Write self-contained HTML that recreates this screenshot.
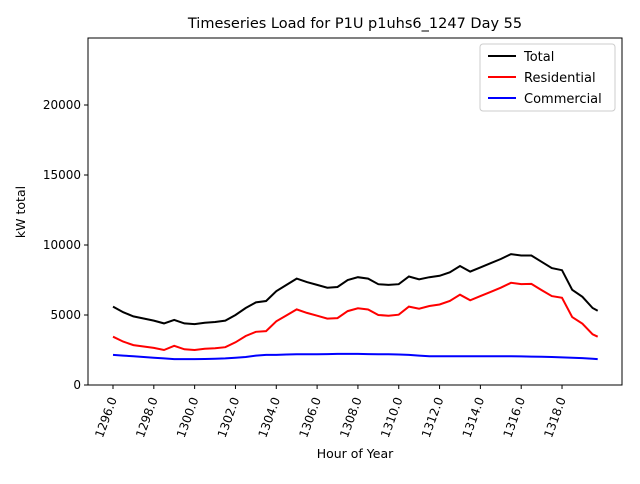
<!DOCTYPE html>
<html><head><meta charset="utf-8"><style>
body{margin:0;background:#fff;font-family:"DejaVu Sans","Liberation Sans",sans-serif;}
svg text{font-family:"DejaVu Sans","Liberation Sans",sans-serif;}
</style></head><body>
<svg id="c" width="640" height="480">
<rect width="640" height="480" fill="#fff"/>
</svg>
<script>
const hours=[1296,1296.5,1297,1297.5,1298,1298.5,1299,1299.5,1300,1300.5,1301,1301.5,1302,1302.5,1303,1303.5,1304,1304.5,1305,1305.5,1306,1306.5,1307,1307.5,1308,1308.5,1309,1309.5,1310,1310.5,1311,1311.5,1312,1312.5,1313,1313.5,1314,1314.5,1315,1315.5,1316,1316.5,1317,1317.5,1318,1318.5,1319,1319.5,1319.75];
const total=[5600,5200,4900,4750,4600,4400,4650,4400,4350,4450,4500,4600,5000,5500,5900,6000,6700,7150,7600,7350,7150,6950,7000,7500,7700,7600,7200,7150,7200,7750,7550,7700,7800,8050,8500,8100,8400,8700,9000,9350,9250,9250,8800,8350,8200,6800,6300,5500,5300];
const commercial=[2150,2100,2050,2000,1950,1900,1850,1850,1850,1860,1880,1900,1950,2000,2100,2150,2150,2180,2200,2200,2200,2210,2220,2220,2220,2210,2200,2200,2180,2150,2100,2060,2050,2050,2050,2050,2050,2050,2050,2050,2040,2030,2020,2000,1970,1950,1920,1880,1850];
const residential=[3450,3100,2850,2750,2650,2500,2800,2550,2500,2590,2620,2700,3050,3500,3800,3850,4550,4970,5400,5150,4950,4740,4780,5280,5480,5390,5000,4950,5020,5600,5450,5640,5750,6000,6450,6050,6350,6650,6950,7300,7210,7220,6780,6350,6230,4850,4380,3620,3450];
const yTicks=[0,5000,10000,15000,20000];
const xTicks=[1296,1298,1300,1302,1304,1306,1308,1310,1312,1314,1316,1318];
const L=88,R=622,T=38,B=385;
const X=h=>113+(h-1296)*20.41;
const Y=v=>B-v*0.014;
const svg=document.getElementById('c');
const NS='http://www.w3.org/2000/svg';
function mk(t,a,p){const e=document.createElementNS(NS,t);for(const k in a)e.setAttribute(k,a[k]);(p||svg).appendChild(e);return e;}
function series(vals,color,name){
  const pts=vals.map((v,i)=>X(hours[i]).toFixed(1)+','+Y(v).toFixed(1)).join(' ');
  const p=mk('polyline',{points:pts,fill:'none',stroke:color,'stroke-width':2});
  
  
}
series(total,'#000','total-line');
series(residential,'#ff0000','residential-line');
series(commercial,'#0000ff','commercial-line');
const frame=mk('rect',{x:L,y:T,width:R-L,height:B-T,fill:'none',stroke:'#000','stroke-width':1});


yTicks.forEach(v=>{
  mk('line',{x1:L-4,x2:L,y1:Y(v),y2:Y(v),stroke:'#000'});
  const t=mk('text',{x:L-7,y:Y(v)+4,'text-anchor':'end','font-size':12});
  t.textContent=v;
  
  
});
xTicks.forEach(h=>{
  mk('line',{x1:X(h),x2:X(h),y1:B,y2:B+4,stroke:'#000'});
  const t=mk('text',{x:X(h)+4,y:B+14,'text-anchor':'end','font-size':12,transform:`rotate(-70 ${X(h)+4} ${B+14})`});
  t.textContent=h.toFixed(1);
  
  
});
const ti=mk('text',{x:355,y:28,'text-anchor':'middle','font-size':14.5});
ti.textContent='Timeseries Load for P1U p1uhs6_1247  Day 55';


const xl=mk('text',{x:355,y:458,'text-anchor':'middle','font-size':12.5});
xl.textContent='Hour of Year';


const yl=mk('text',{x:25,y:212,'text-anchor':'middle','font-size':12.5,transform:'rotate(-90 25 212)'});
yl.textContent='kW total';


const lg=mk('g',{});


mk('rect',{x:480,y:44,width:135,height:67,rx:3,fill:'#fff',stroke:'#ccc'},lg);
[['Total','#000',56],['Residential','#ff0000',77],['Commercial','#0000ff',98]].forEach(([n,c,y])=>{
  mk('line',{x1:488,x2:516,y1:y,y2:y,stroke:c,'stroke-width':2},lg);
  const t=mk('text',{x:524,y:y+5,'font-size':13},lg);
  t.textContent=n;
  
  
});
</script>
</body></html>
